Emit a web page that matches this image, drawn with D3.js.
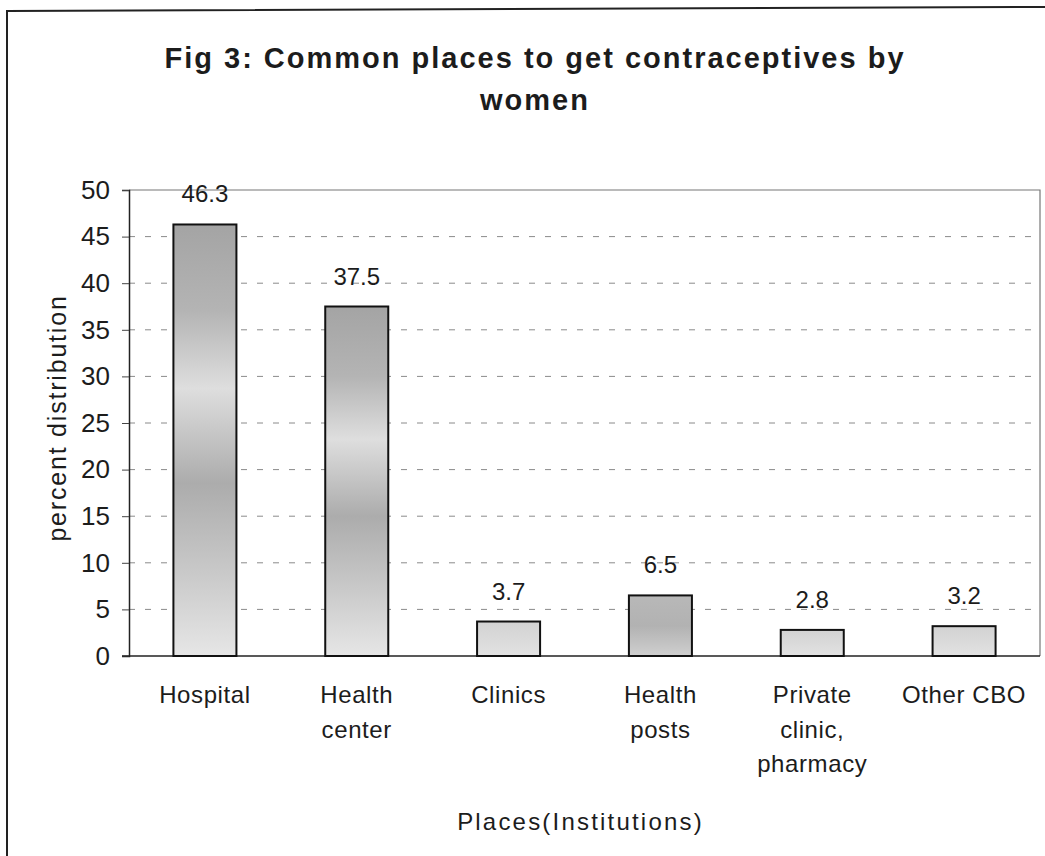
<!DOCTYPE html>
<html>
<head>
<meta charset="utf-8">
<script src="https://cdn.jsdelivr.net/npm/d3@7"></script>
<style>
  html, body { margin: 0; padding: 0; background: #fff; }
  svg { display: block; font-family: Arial, "Liberation Sans", sans-serif; }
</style>
</head>
<body>
<div id="chart"></div>
<script>
// Fig 3 — common places to get contraceptives (percent distribution)
var categories = [
  ['Hospital'],
  ['Health', 'center'],
  ['Clinics'],
  ['Health', 'posts'],
  ['Private', 'clinic,', 'pharmacy'],
  ['Other CBO']
];
var values = [46.3, 37.5, 3.7, 6.5, 2.8, 3.2];
var yTicks = [0, 5, 10, 15, 20, 25, 30, 35, 40, 45, 50];
var titleLines = ['Fig 3: Common places to get contraceptives by', 'women'];
var yTitle = 'percent distribution';
var xTitle = 'Places(Institutions)';

var W = 1045, H = 856;
var m = { t: 190, r: 5, b: 200, l: 129 };
var iw = W - m.l - m.r, ih = H - m.t - m.b;
var INK = '#1c1c1c';

var svg = d3.select('#chart').append('svg').attr('width', W).attr('height', H);

// grey gradient fills, roughly like the scanned bars
var defs = svg.append('defs');
function addGrad(id, stops) {
  var gr = defs.append('linearGradient').attr('id', id)
    .attr('x1', 0).attr('y1', 0).attr('x2', 0).attr('y2', 1);
  stops.forEach(function (s) { gr.append('stop').attr('offset', s[0]).attr('stop-color', s[1]); });
}
addGrad('barTall', [[0, '#a4a4a4'], [0.2, '#b4b4b4'], [0.38, '#dedede'], [0.6, '#acacac'], [0.8, '#c8c8c8'], [1, '#e6e6e6']]);
addGrad('barMid', [[0, '#b8b8b8'], [0.5, '#b2b2b2'], [1, '#cfcfcf']]);
addGrad('barSmall', [[0, '#d2d2d2'], [1, '#e2e2e2']]);

// outer frame: only left and (slightly tilted) top edges show in the scan
svg.append('path')
  .attr('d', 'M' + W + ',7 L7,11 L7,' + H)
  .attr('fill', 'none').attr('stroke', '#222').attr('stroke-width', 2);

// title
svg.append('g').selectAll('text').data(titleLines).enter().append('text')
  .attr('x', 535).attr('y', function (d, i) { return 68 + i * 42; })
  .attr('text-anchor', 'middle')
  .attr('font-size', 29).attr('font-weight', 'bold').attr('letter-spacing', 2)
  .attr('fill', INK)
  .text(function (d) { return d; });

var g = svg.append('g').attr('transform', 'translate(' + m.l + ',' + m.t + ')');

var x = d3.scaleBand().domain(d3.range(categories.length)).range([0, iw]).paddingInner(0.585).paddingOuter(0.2925);
var y = d3.scaleLinear().domain([0, 50]).range([ih, 0]);

// dashed gridlines
g.append('g').selectAll('line').data(yTicks.filter(function (t) { return t > 0 && t < 50; })).enter().append('line')
  .attr('x1', 0).attr('x2', iw)
  .attr('y1', function (d) { return y(d); }).attr('y2', function (d) { return y(d); })
  .attr('stroke', '#8a8a8a').attr('stroke-width', 1).attr('stroke-dasharray', '6,10');

// plot border (top, right)
g.append('path').attr('d', 'M0,0 L' + iw + ',0 L' + iw + ',' + ih)
  .attr('fill', 'none').attr('stroke', '#777').attr('stroke-width', 1.2);

// y axis
var yAxis = g.append('g').call(d3.axisLeft(y).tickValues(yTicks).tickSize(7).tickPadding(12));
yAxis.select('.domain').attr('stroke', '#222').attr('stroke-width', 1.5);
yAxis.selectAll('.tick line').attr('stroke', '#444');
yAxis.selectAll('.tick text').attr('font-size', 26).attr('fill', INK)
  .attr('font-family', 'Arial, "Liberation Sans", sans-serif');

// x axis baseline
g.append('line').attr('x1', -7).attr('x2', iw).attr('y1', ih).attr('y2', ih)
  .attr('stroke', '#222').attr('stroke-width', 1.5);

// bars
g.append('g').selectAll('rect').data(values).enter().append('rect')
  .attr('x', function (d, i) { return x(i); })
  .attr('y', function (d) { return y(d); })
  .attr('width', x.bandwidth())
  .attr('height', function (d) { return ih - y(d); })
  .attr('fill', function (d) { return d > 10 ? 'url(#barTall)' : (d > 5 ? 'url(#barMid)' : 'url(#barSmall)'); })
  .attr('stroke', '#111').attr('stroke-width', 2);

// value labels
g.append('g').selectAll('text').data(values).enter().append('text')
  .attr('x', function (d, i) { return x(i) + x.bandwidth() / 2; })
  .attr('y', function (d) { return y(d) - 22; })
  .attr('text-anchor', 'middle').attr('font-size', 24).attr('fill', INK)
  .text(function (d) { return d.toFixed(1); });

// category labels (multi-line)
var cat = g.append('g').selectAll('text').data(categories).enter().append('text')
  .attr('text-anchor', 'middle').attr('font-size', 24).attr('fill', INK).attr('letter-spacing', 0.6)
  .attr('transform', function (d, i) { return 'translate(' + (x(i) + x.bandwidth() / 2) + ',' + (ih + 47) + ')'; });
cat.selectAll('tspan').data(function (d) { return d; }).enter().append('tspan')
  .attr('x', 0).attr('y', function (d, i) { return i * 34.5; })
  .text(function (d) { return d; });

// axis titles
g.append('text').attr('x', iw / 2 - 4).attr('y', ih + 174)
  .attr('text-anchor', 'middle').attr('font-size', 24).attr('letter-spacing', 2.2).attr('fill', INK)
  .text(xTitle);
g.append('text').attr('transform', 'translate(-63,' + (ih / 2 - 5) + ') rotate(-90)')
  .attr('text-anchor', 'middle').attr('font-size', 25).attr('letter-spacing', 1.8).attr('fill', INK)
  .text(yTitle);
</script>
</body>
</html>
